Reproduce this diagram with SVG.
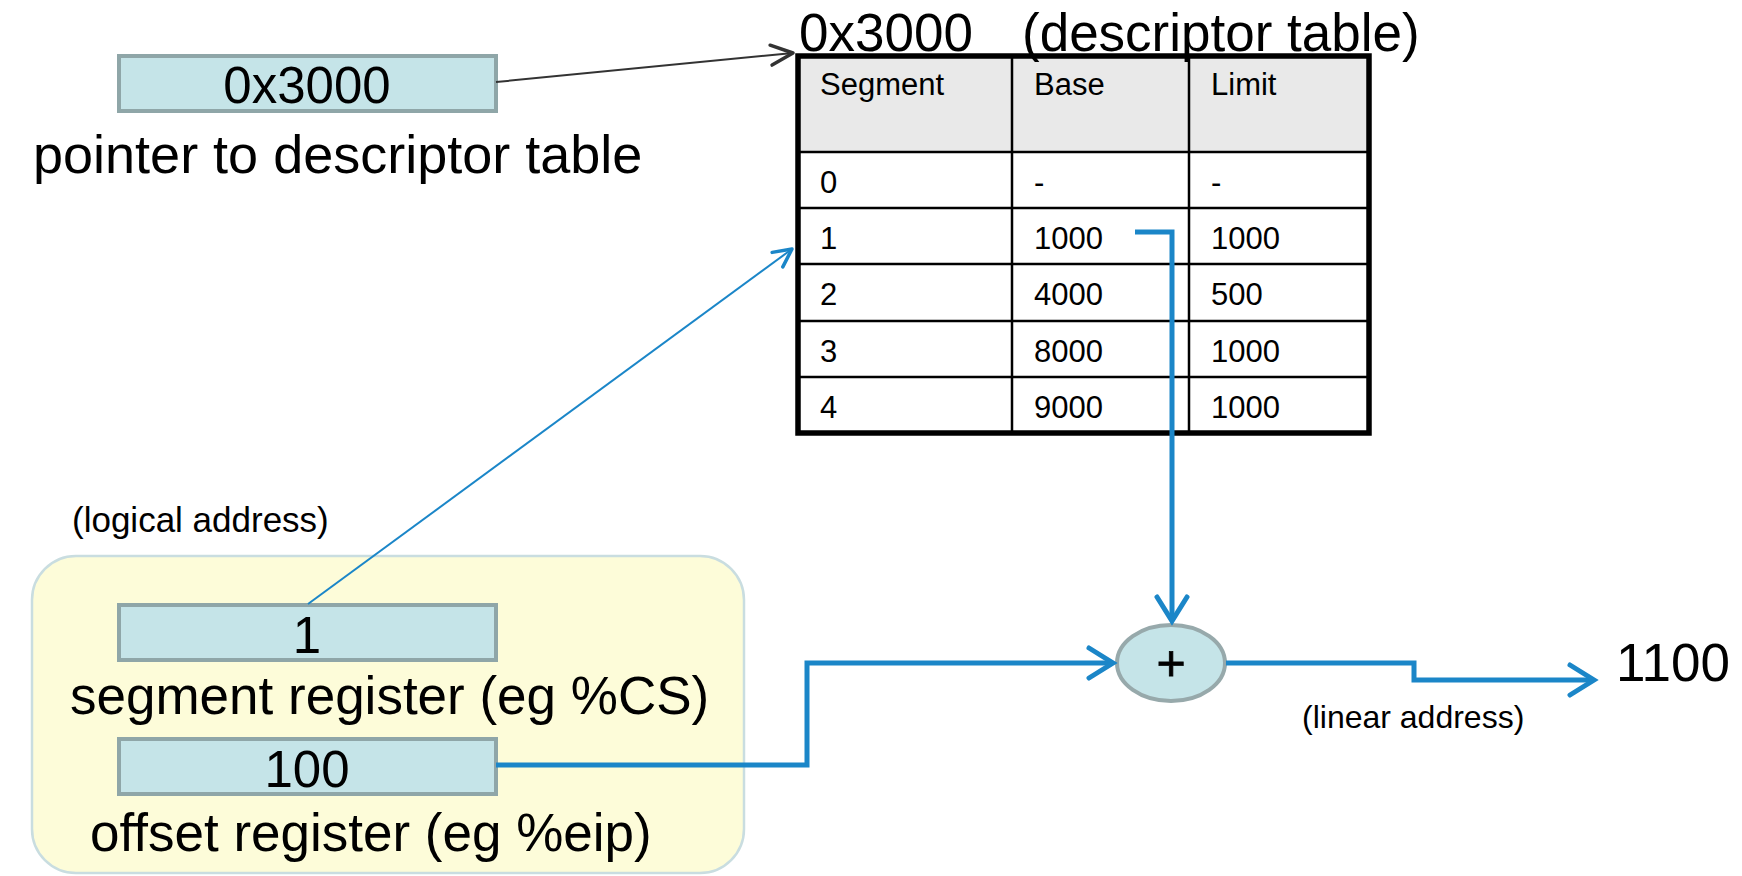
<svg xmlns="http://www.w3.org/2000/svg" width="1742" height="876" viewBox="0 0 1742 876">
  <style>
    text { font-family: "Liberation Sans", Arial, sans-serif; fill: #000; }
    .reg { fill: #c5e4e8; stroke: #8fa6a8; stroke-width: 4; }
    .big { font-size: 51px; }
    .ttl { font-size: 53px; }
    .lbl { font-size: 53px; }
    .cell { font-size: 31px; }
    .inner { stroke: #000; stroke-width: 2.5; fill: none; }
    .thick { fill: none; stroke: #1b86c8; stroke-width: 5; stroke-linejoin: miter; }
  </style>
  <defs>
    <marker id="ahGray" markerUnits="userSpaceOnUse" orient="auto" refX="0" refY="0" markerWidth="40" markerHeight="40" viewBox="-30 -20 40 40" overflow="visible">
      <path d="M -22 -10 L 0 0 L -22 10" fill="none" stroke="#333" stroke-width="3.5" stroke-linecap="round" stroke-linejoin="round"/>
    </marker>
    <marker id="ahBlueThin" markerUnits="userSpaceOnUse" orient="auto" refX="0" refY="0" markerWidth="40" markerHeight="40" viewBox="-30 -20 40 40" overflow="visible">
      <path d="M -18 -9 L 0 0 L -18 9" fill="none" stroke="#1b86c8" stroke-width="3.5" stroke-linecap="round" stroke-linejoin="round"/>
    </marker>
    <marker id="ahBlue" markerUnits="userSpaceOnUse" orient="auto" refX="0" refY="0" markerWidth="60" markerHeight="60" viewBox="-40 -30 60 60" overflow="visible">
      <path d="M -24 -15 L 0 0 L -24 15" fill="none" stroke="#1b86c8" stroke-width="5" stroke-linecap="round" stroke-linejoin="miter"/>
    </marker>
  </defs>

  <rect width="1742" height="876" fill="#ffffff"/>

  <!-- pointer register -->
  <g id="ptr-register">
    <rect class="reg" x="119" y="56" width="377" height="55"/>
    <text class="big" x="307" y="103" text-anchor="middle">0x3000</text>
    <text x="33" y="173" font-size="54">pointer to descriptor table</text>
  </g>

  <!-- descriptor table -->
  <g id="descriptor-table">
    <rect x="798" y="56" width="571" height="96" fill="#e9e9e9"/>
    <rect x="798" y="152" width="571" height="281" fill="#ffffff"/>
    <line class="inner" x1="798" y1="152" x2="1369" y2="152"/>
    <line class="inner" x1="798" y1="208" x2="1369" y2="208"/>
    <line class="inner" x1="798" y1="264" x2="1369" y2="264"/>
    <line class="inner" x1="798" y1="321" x2="1369" y2="321"/>
    <line class="inner" x1="798" y1="377" x2="1369" y2="377"/>
    <line class="inner" x1="1012" y1="56" x2="1012" y2="433"/>
    <line class="inner" x1="1189" y1="56" x2="1189" y2="433"/>
    <rect x="798" y="56" width="571" height="377" fill="none" stroke="#000" stroke-width="5.5"/>
    <text class="cell" x="820" y="95">Segment</text>
    <text class="cell" x="1034" y="95">Base</text>
    <text class="cell" x="1211" y="95">Limit</text>
    <text class="cell" x="820" y="193">0</text>
    <text class="cell" x="1034" y="193">-</text>
    <text class="cell" x="1211" y="193">-</text>
    <text class="cell" x="820" y="249">1</text>
    <text class="cell" x="1034" y="249">1000</text>
    <text class="cell" x="1211" y="249">1000</text>
    <text class="cell" x="820" y="305">2</text>
    <text class="cell" x="1034" y="305">4000</text>
    <text class="cell" x="1211" y="305">500</text>
    <text class="cell" x="820" y="362">3</text>
    <text class="cell" x="1034" y="362">8000</text>
    <text class="cell" x="1211" y="362">1000</text>
    <text class="cell" x="820" y="418">4</text>
    <text class="cell" x="1034" y="418">9000</text>
    <text class="cell" x="1211" y="418">1000</text>
  </g>
  <g id="table-title">
    <text class="ttl" x="799" y="51">0x3000</text>
    <text class="ttl" x="1022" y="51">(descriptor table)</text>
  </g>

  <!-- logical address group -->
  <g id="logical-address">
    <text x="72" y="532" font-size="35">(logical address)</text>
    <rect x="32" y="556" width="712" height="317" rx="44" ry="44" fill="#fdfcd9" stroke="#c9dde0" stroke-width="2.5"/>
  </g>
  <g id="segment-register">
    <rect class="reg" x="119" y="605" width="377" height="55"/>
    <text class="big" x="307" y="653" text-anchor="middle">1</text>
    <text class="lbl" x="70" y="714">segment register (eg %CS)</text>
  </g>
  <g id="offset-register">
    <rect class="reg" x="119" y="739" width="377" height="55"/>
    <text class="big" x="307" y="787" text-anchor="middle">100</text>
    <text class="lbl" x="90" y="851">offset register (eg %eip)</text>
  </g>

  <!-- adder -->
  <g id="adder">
    <ellipse cx="1171" cy="663" rx="54" ry="38" fill="#c5e4e8" stroke="#97a9ab" stroke-width="4"/>
    <text x="1171" y="680" font-size="50" text-anchor="middle" stroke="#000" stroke-width="0.8">+</text>
  </g>

  <g id="linear-address">
    <text x="1302" y="728" font-size="32">(linear address)</text>
    <text x="1616" y="681" font-size="53">1100</text>
  </g>

  <!-- connectors -->
  <g id="connectors">
    <line x1="496" y1="82" x2="793" y2="53" stroke="#333" stroke-width="2" marker-end="url(#ahGray)"/>
    <line x1="308" y1="604" x2="792" y2="249" stroke="#1b86c8" stroke-width="2" marker-end="url(#ahBlueThin)"/>
    <polyline class="thick" points="1135,232 1172,232 1172,621" marker-end="url(#ahBlue)"/>
    <polyline class="thick" points="496,765 807,765 807,663 1113,663" marker-end="url(#ahBlue)"/>
    <polyline class="thick" points="1226,663 1414,663 1414,680 1594,680" marker-end="url(#ahBlue)"/>
  </g>
</svg>
